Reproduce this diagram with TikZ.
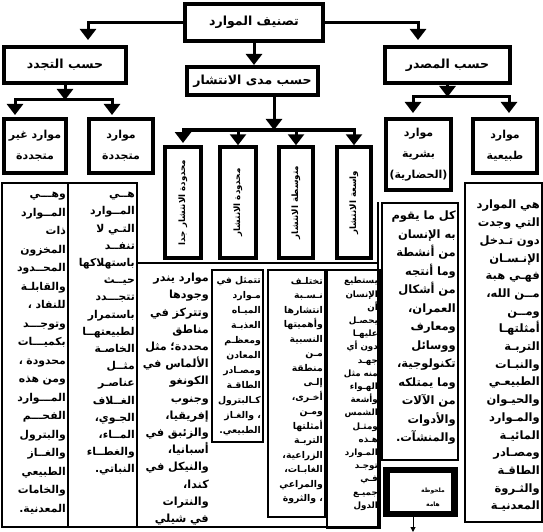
\documentclass[tikz,border=0pt]{standalone}
\usepackage{fontspec}
\newfontfamily\arabicfont[Script=Arabic]{DejaVu Sans}
\TeXXeTstate=1
\usetikzlibrary{arrows.meta}
\newcommand\ar[1]{\beginR#1\endR}

\tikzset{
  headbox/.style={draw,line width=4pt,inner sep=0pt,align=center,
    font=\arabicfont\bfseries\fontsize{12.5}{20}\selectfont},
  subbox/.style={headbox,line width=3.5pt,font=\arabicfont\bfseries\fontsize{11}{21}\selectfont},
  vertbox/.style={subbox,rotate=90,minimum width=111pt,font=\arabicfont\bfseries\fontsize{8.7}{12}\selectfont},
  frame/.style={line width=1.6pt},
  coltext/.style={inner sep=0pt,align=right,anchor=north east,
    font=\arabicfont\bfseries\fontsize{11.2}{17.2}\selectfont},
  flow/.style={line width=3pt,-{Triangle[length=11pt,width=16pt]}},
  split/.style={line width=3pt,{Triangle[length=11pt,width=16pt]}-{Triangle[length=11pt,width=16pt]}},
}

\begin{document}
\begin{tikzpicture}[x=1pt,y=-1pt]
\useasboundingbox (0,0) rectangle (543,532);

% first and second level
\node[headbox,minimum width=138pt,minimum height=37pt] (top) at (254,22.5) {\ar{تصنيف الموارد}};
\node[headbox,minimum width=122pt,minimum height=36pt] (byrenew) at (65,65) {\ar{حسب التجدد}};
\node[headbox,minimum width=131pt,minimum height=28pt] (byspread) at (252.5,81) {\ar{حسب مدى الانتشار}};
\node[headbox,minimum width=125pt,minimum height=36pt] (bysource) at (447.5,65) {\ar{حسب المصدر}};

\coordinate (lefttip) at (88,40);
\coordinate (righttip) at (418,40);
\draw[flow] (top.west) -| (lefttip);
\draw[flow] (top.east) -| (righttip);
\draw[flow] (top.south) -- (top.south |- byspread.north);

% third level
\node[subbox,minimum width=62pt,minimum height=54pt] (nonrenew) at (35,146) {\ar{موارد غير}\\\ar{متجددة}};
\node[subbox,minimum width=64pt,minimum height=54pt] (renew) at (121,146) {\ar{موارد}\\\ar{متجددة}};
\node[vertbox,minimum height=36pt] (v1) at (183,202.5) {\ar{محدودة الانتشار جدا}};
\node[vertbox,minimum height=36pt] (v2) at (238,202.5) {\ar{محدودة الانتشار}};
\node[vertbox,minimum height=34pt] (v3) at (296,202.5) {\ar{متوسطة الانتشار}};
\node[vertbox,minimum height=34pt] (v4) at (354,202.5) {\ar{واسعة الانتشار}};
\node[subbox,minimum width=65pt,minimum height=71pt] (human) at (418.5,154.5) {\ar{موارد}\\\ar{بشرية}\\\ar{(الحضارية)}};
\node[subbox,minimum width=64pt,minimum height=54pt] (natural) at (505,146) {\ar{موارد}\\\ar{طبيعية}};

\draw[flow] (byrenew.south) -- (byrenew.south |- 0,100);
\draw[split] (15,115) |- (112,100) -- (112,115);
\draw[flow] (byspread.south -| 274,0) -- (274,130);
\draw[split] (v1.east |- 0,143) |- (v4.east |- 0,130) -- (v4.east);
\draw[flow] (v2.east |- 0,130) -- (v2.east);
\draw[flow] (v3.east |- 0,130) -- (v3.east);
\draw[flow] (bysource.south) -- (bysource.south |- 0,97);
\draw[split] (413,113) |- (509,97) -- (509,113);

% text frames
\draw[frame] (2,183) rectangle (68,527);
\draw[frame] (68,183) rectangle (137,527);
\draw[frame] (137,263) rectangle (378,527);
\draw[frame] (212,270) rectangle (263,442);
\draw[frame] (268,270) rectangle (325,517);
\draw[frame] (327,270) rectangle (380,528);
\draw[frame] (378,202) -- (378,263);
\draw[frame] (382,203) rectangle (458,460);
\draw[frame] (465,183) rectangle (542,522);

\node[coltext,text width=63pt,font=\arabicfont\bfseries\fontsize{10.8}{18.5}\selectfont] (nonrenewtext) at (66,192) {\ar{وهـــي}\\\ar{المــوارد}\\\ar{ذات}\\\ar{المخزون}\\\ar{المحــدود}\\\ar{والقابلـة}\\\ar{للنفاد ،}\\\ar{وتوجـــد}\\\ar{بكميـــات}\\\ar{محدودة ،}\\\ar{ومن هذه}\\\ar{المـــوارد}\\\ar{الفحـــم}\\\ar{والبترول}\\\ar{والغــاز}\\\ar{الطبيعي}\\\ar{والخامات}\\\ar{المعدنية.}};
\node[coltext,text width=65pt,font=\arabicfont\bfseries\fontsize{10.8}{17.2}\selectfont] (renewtext) at (135,192) {\ar{هــي}\\\ar{المــوارد}\\\ar{التـي لا}\\\ar{تنفــد}\\\ar{باستهلاكها}\\\ar{حيــث}\\\ar{تتجـــدد}\\\ar{باستمرار}\\\ar{لطبيعتهــا}\\\ar{الخاصـة}\\\ar{مثــل}\\\ar{عناصـر}\\\ar{الغــلاف}\\\ar{الجـوي،}\\\ar{المــاء،}\\\ar{والغطــاء}\\\ar{النباتي.}};
\node[coltext,text width=70pt] (raretext) at (209,273) {\ar{موارد يندر}\\\ar{وجودها}\\\ar{وتتركز في}\\\ar{مناطق}\\\ar{محددة؛ مثل}\\\ar{الألماس في}\\\ar{الكونغو}\\\ar{وجنوب}\\\ar{إفريقيا،}\\\ar{والزئبق في}\\\ar{أسبانيا،}\\\ar{والنيكل في}\\\ar{كندا،}\\\ar{والنترات}\\\ar{في شيلي}};
\node[coltext,text width=48pt,font=\arabicfont\bfseries\fontsize{9.3}{15}\selectfont] (limitedtext) at (261,276) {\ar{تتمثل في}\\\ar{مـوارد}\\\ar{الميـاه}\\\ar{العذبـة}\\\ar{ومعظـم}\\\ar{المعادن}\\\ar{ومصـادر}\\\ar{الطاقـة}\\\ar{كـالبترول}\\\ar{، والغـاز}\\\ar{الطبيعي.}};
\node[coltext,text width=54pt,font=\arabicfont\bfseries\fontsize{9.3}{14.5}\selectfont] (mediumtext) at (323,277) {\ar{تختلـف}\\\ar{نـسـبة}\\\ar{انتشارها}\\\ar{وأهميتها}\\\ar{النسبية}\\\ar{مـن}\\\ar{منطقة}\\\ar{إلـى}\\\ar{أخـرى،}\\\ar{ومـن}\\\ar{أمثلتها}\\\ar{التربـة}\\\ar{الزراعية،}\\\ar{الغابـات،}\\\ar{والمراعي}\\\ar{، والثروة}};
\node[coltext,text width=50pt,font=\arabicfont\bfseries\fontsize{8.7}{13.2}\selectfont] (widetext) at (378,277) {\ar{يستطيع}\\\ar{الإنسان}\\\ar{أن}\\\ar{يحصـل}\\\ar{عليهـا}\\\ar{دون أي}\\\ar{جهـد}\\\ar{منه مثل}\\\ar{الهـواء}\\\ar{وأشعة}\\\ar{الشمس}\\\ar{ومثـل}\\\ar{هـذه}\\\ar{المـوارد}\\\ar{توجـد}\\\ar{فـي}\\\ar{جميـع}\\\ar{الدول}};
\node[coltext,text width=72pt,font=\arabicfont\bfseries\fontsize{11.5}{18.5}\selectfont] (humantext) at (456,211) {\ar{كل ما يقوم}\\\ar{به الإنسان}\\\ar{من أنشطة}\\\ar{وما أنتجه}\\\ar{من أشكال}\\\ar{العمران،}\\\ar{ومعارف}\\\ar{ووسائل}\\\ar{تكنولوجية،}\\\ar{وما يمتلكه}\\\ar{من الآلات}\\\ar{والأدوات}\\\ar{والمنشآت.}};
\node[coltext,text width=73pt,font=\arabicfont\bfseries\fontsize{11.5}{17.7}\selectfont] (naturaltext) at (540,200) {\ar{هي الموارد}\\\ar{التي وجدت}\\\ar{دون تـدخل}\\\ar{الإنـسـان}\\\ar{فهـي هبة}\\\ar{مــن الله،}\\\ar{ومــن}\\\ar{أمثلتهـا}\\\ar{التربـة}\\\ar{والنبـات}\\\ar{الطبيعـي}\\\ar{والحيـوان}\\\ar{والمـوارد}\\\ar{المائيـة}\\\ar{ومصـادر}\\\ar{الطاقـة}\\\ar{والثـروة}\\\ar{المعدنيـة}};

% note box
\node[draw,line width=6.5pt,minimum width=68pt,minimum height=44pt,inner sep=0pt] (note) at (420.5,492) {};
\node[align=center,inner sep=0pt,font=\arabicfont\bfseries\fontsize{6}{14}\selectfont] (notetext) at (433,497) {\ar{ملحوظة}\\\ar{هامة}};
\coordinate (noteend) at (413,532);
\draw[line width=1pt,-{Triangle[length=5pt,width=5pt]}] (note.south -| noteend) -- (noteend);
\end{tikzpicture}
\end{document}
